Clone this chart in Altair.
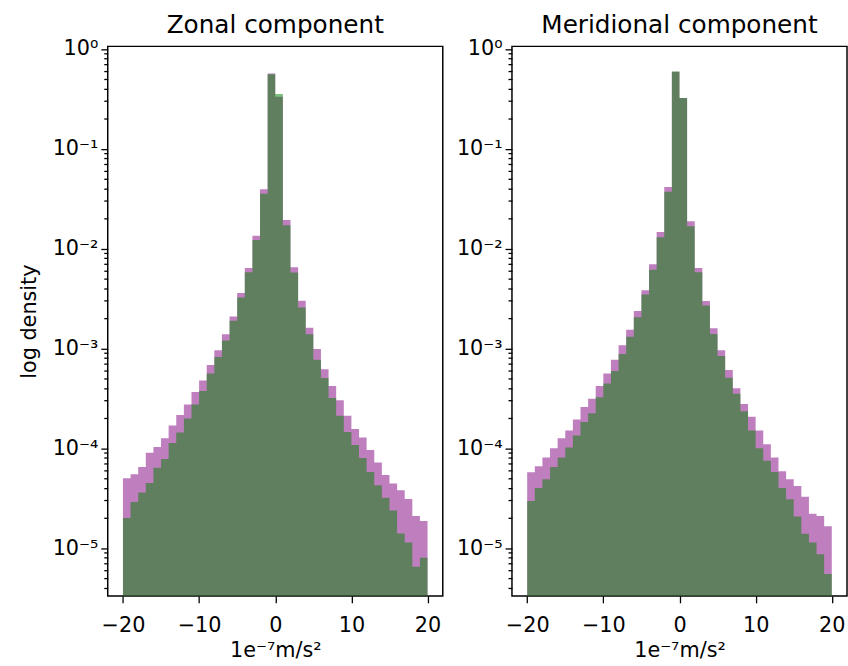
import altair as alt
import pandas as pd

# left edges of the 1-unit histogram bins (-20 .. 19)
bin_start = list(range(-20, 20))

# Zonal component: purple series (a) and green series (b), density per bin
zonal_a = [5.0e-5, 5.5e-5, 6.5e-5, 9.0e-5, 1.03e-4, 1.26e-4, 1.69e-4, 2.16e-4, 2.75e-4, 3.66e-4,
           4.78e-4, 6.84e-4, 9.6e-4, 1.39e-3, 2.09e-3, 3.6e-3, 6.4e-3, 1.35e-2, 3.94e-2, 0.57,
           0.332, 1.94e-2, 6.5e-3, 3.01e-3, 1.61e-3, 9.9e-4, 6.2e-4, 4.2e-4, 3.03e-4, 2.12e-4,
           1.56e-4, 1.28e-4, 9.6e-5, 7.2e-5, 5.4e-5, 4.45e-5, 3.8e-5, 3.1e-5, 2.1e-5, 1.87e-5]
zonal_b = [2.0e-5, 2.9e-5, 3.6e-5, 4.5e-5, 6.4e-5, 7.8e-5, 1.13e-4, 1.44e-4, 1.99e-4, 2.75e-4,
           3.75e-4, 5.62e-4, 8.2e-4, 1.20e-3, 1.90e-3, 3.24e-3, 5.8e-3, 1.22e-2, 3.54e-2, 0.56,
           0.354, 1.72e-2, 5.77e-3, 2.58e-3, 1.39e-3, 7.7e-4, 5.06e-4, 3.19e-4, 2.12e-4, 1.46e-4,
           1.08e-4, 8.0e-5, 5.8e-5, 4.27e-5, 3.2e-5, 2.38e-5, 1.4e-5, 1.14e-5, 6.5e-6, 8.0e-6]

# Meridional component
merid_a = [5.74e-5, 6.6e-5, 8.1e-5, 1.0e-4, 1.26e-4, 1.51e-4, 1.94e-4, 2.59e-4, 3.14e-4, 4.2e-4,
           5.6e-4, 7.7e-4, 1.08e-3, 1.54e-3, 2.37e-3, 3.84e-3, 6.97e-3, 1.47e-2, 4.14e-2, 0.593,
           0.324, 1.88e-2, 6.4e-3, 2.99e-3, 1.59e-3, 9.6e-4, 6.1e-4, 4.0e-4, 2.77e-4, 2.07e-4,
           1.51e-4, 1.10e-4, 8.1e-5, 5.9e-5, 4.9e-5, 4.2e-5, 3.27e-5, 2.21e-5, 2.10e-5, 1.66e-5]
merid_b = [2.96e-5, 4.0e-5, 4.9e-5, 6.5e-5, 8.1e-5, 1.02e-4, 1.34e-4, 1.83e-4, 2.25e-4, 3.24e-4,
           4.45e-4, 5.94e-4, 8.8e-4, 1.31e-3, 2.06e-3, 3.48e-3, 6.15e-3, 1.30e-2, 3.72e-2, 0.595,
           0.324, 1.68e-2, 5.8e-3, 2.69e-3, 1.40e-3, 8.4e-4, 5.1e-4, 3.52e-4, 2.35e-4, 1.51e-4,
           1.0e-4, 7.5e-5, 5.8e-5, 4.0e-5, 3.08e-5, 2.07e-5, 1.39e-5, 1.14e-5, 8.7e-6, 5.5e-6]

titles = ["Zonal component", "Meridional component"]
x_ticks = [-20, -10, 0, 10, 20]
y_major = [1, 1e-1, 1e-2, 1e-3, 1e-4, 1e-5]
Y_MIN, Y_MAX = 3.32e-6, 1.063
y_minor = [m * 10.0 ** k for k in range(-6, 0) for m in range(2, 10) if Y_MIN <= m * 10.0 ** k <= Y_MAX]

FONT = "DejaVu Sans"
label_expr = ("['10\u2070','10\u207b\u00b9','10\u207b\u00b2','10\u207b\u00b3','10\u207b\u2074','10\u207b\u2075']"
              "[round(-log(datum.value)/LN10)]")


def step_table(values):
    # every bin contributes its left and right edge at the bin's height (histogram outline)
    rows = []
    for s, v in zip(bin_start, values):
        rows.append({"x": s, "v": v})
        rows.append({"x": s + 1, "v": v})
    return pd.DataFrame(rows)


def panel(title, a, b, show_ytitle):
    xaxis = alt.Axis(values=x_ticks, title="1e\u207b\u2077m/s\u00b2", tickSize=7, labelPadding=12,
                     titlePadding=4)
    xscale = alt.Scale(domain=[-22, 22], nice=False, zero=False)
    yscale = alt.Scale(type="log", domain=[Y_MIN, Y_MAX], nice=False)
    major_axis = alt.Axis(values=y_major, labelExpr=label_expr, tickSize=7, labelPadding=3,
                          title="log density" if show_ytitle else None, titlePadding=13)
    minor_axis = alt.Axis(values=y_minor, labels=False, tickSize=4, title=None, orient="left")

    def hist(vals, color, yaxis):
        return alt.Chart(step_table(vals)).mark_area(color=color, opacity=0.5).encode(
            x=alt.X("x:Q", scale=xscale, axis=xaxis),
            y=alt.Y("v:Q", scale=yscale, axis=yaxis),
            y2=alt.datum(Y_MIN),
        )

    purple = hist(a, "purple", major_axis)
    green = hist(b, "green", minor_axis)
    return alt.layer(purple, green).resolve_axis(y="independent").resolve_scale(y="shared").properties(
        width=339, height=556,
        title=alt.TitleParams(title, fontSize=25, font=FONT, fontWeight="normal", color="black",
                              anchor="middle", offset=0),
    )


chart = alt.hconcat(
    panel(titles[0], zonal_a, zonal_b, True),
    panel(titles[1], merid_a, merid_b, False),
    spacing=70, bounds="flush",
).properties(
    padding={"left": 18, "top": 8, "right": 0, "bottom": 0},
    background="white",
).configure_view(
    stroke="black", strokeWidth=1.5
).configure_axis(
    domain=False, grid=False, tickColor="black", tickWidth=1.3,
    labelFont=FONT, labelFontSize=21, labelColor="black",
    titleFont=FONT, titleFontSize=21, titleFontWeight="normal", titleColor="black",
)

chart.save("out.html", embed_options={"renderer": "svg", "actions": False})
